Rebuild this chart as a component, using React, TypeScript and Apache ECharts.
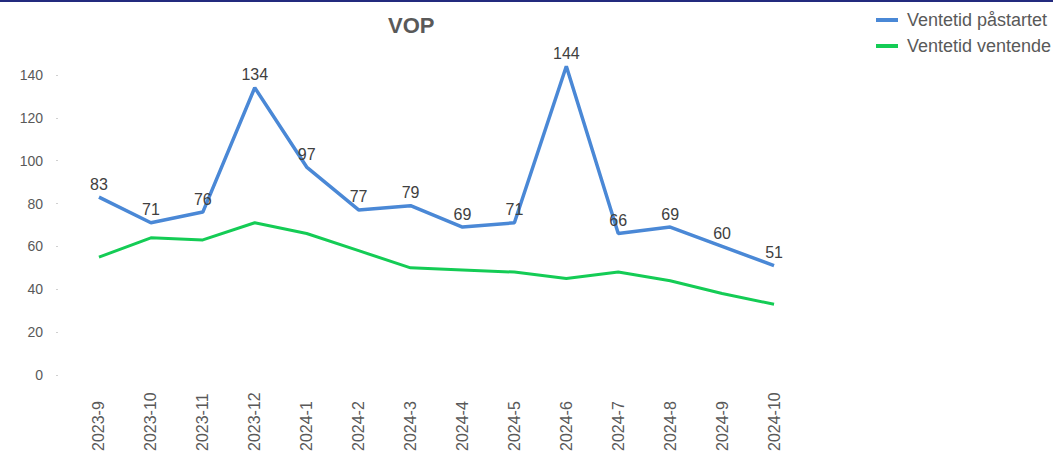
import React, { useEffect, useRef } from "react";
import * as echarts from "echarts";

const categories = ["2023-9", "2023-10", "2023-11", "2023-12", "2024-1", "2024-2", "2024-3", "2024-4", "2024-5", "2024-6", "2024-7", "2024-8", "2024-9", "2024-10"];
const startedWait = [83, 71, 76, 134, 97, 77, 79, 69, 71, 144, 66, 69, 60, 51];
const waitingWait = [55, 64, 63, 71, 66, 58, 50, 49, 48, 45, 48, 44, 38, 33];
const seriesNames = ["Ventetid påstartet", "Ventetid ventende"];
const titleText = "VOP";

export default function App() {
  const ref = useRef<HTMLDivElement>(null);
  useEffect(() => {
    if (!ref.current) return;
    const chart = echarts.init(ref.current, null, { renderer: "svg" });
    const font = "Arial, 'Liberation Sans', sans-serif";
    chart.setOption({
      animation: false,
      backgroundColor: "#ffffff",
      title: {
        text: titleText,
        left: 383,
        top: 9,
        textStyle: { fontFamily: font, fontSize: 22, fontWeight: "bold", color: "#595959" },
      },
      legend: {
        orient: "vertical",
        left: 871,
        top: 6,
        itemWidth: 22,
        itemHeight: 4,
        itemGap: 8,
        icon: "rect",
        textStyle: { fontFamily: font, fontSize: 18, color: "#595959", padding: [0, 0, 0, 4] },
        data: seriesNames,
      },
      graphic: [
        { type: "rect", left: 0, top: 0, shape: { width: 1053, height: 2 }, style: { fill: "#232a7e" } },
      ],
      grid: { left: 73, right: 253, top: 32, bottom: 77, outerBoundsMode: "none" },
      xAxis: {
        type: "category",
        data: categories,
        boundaryGap: true,
        axisLine: { show: false },
        axisTick: { show: false },
        axisLabel: {
          rotate: 90,
          align: "left",
          verticalAlign: "middle",
          margin: 76,
          interval: 0,
          fontFamily: font,
          fontSize: 16,
          color: "#595959",
        },
      },
      yAxis: {
        type: "value",
        min: 0,
        max: 160,
        interval: 20,
        offset: 15,
        axisLine: { show: false },
        axisTick: { show: true, length: 2, lineStyle: { color: "#d0d0d0", width: 1 } },
        splitLine: { show: false },
        axisLabel: { margin: 15, fontFamily: font, fontSize: 14, color: "#595959", showMaxLabel: false },
      },
      series: [
        {
          name: seriesNames[0],
          type: "line",
          data: startedWait,
          symbol: "circle",
          symbolSize: 0,
          showSymbol: true,
          lineStyle: { color: "#4a88d6", width: 3.5 },
          itemStyle: { color: "#4a88d6" },
          label: { show: true, position: "top", distance: 5, fontFamily: font, fontSize: 16, color: "#404040" },
          z: 3,
        },
        {
          name: seriesNames[1],
          type: "line",
          data: waitingWait,
          symbol: "none",
          lineStyle: { color: "#14cc55", width: 3 },
          itemStyle: { color: "#14cc55" },
          z: 2,
        },
      ],
    });
    return () => chart.dispose();
  }, []);
  return <div ref={ref} style={{ position: "fixed", left: 0, top: 0, width: 1053, height: 452 }} />;
}
